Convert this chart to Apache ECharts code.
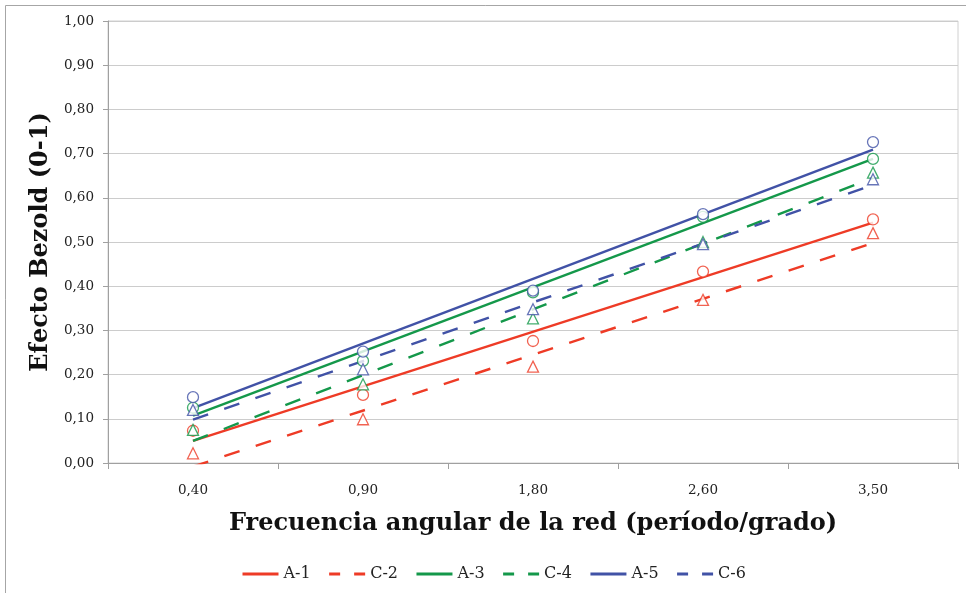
<!DOCTYPE html>
<html>
<head>
<meta charset="utf-8">
<script src="https://cdn.jsdelivr.net/npm/echarts@6/dist/echarts.min.js"></script>
<style>
html,body{margin:0;padding:0;background:#fff;}
#chart{width:966px;height:593px;}
</style>
</head>
<body>
<div id="chart"></div>
<script>
// Categories (x axis)
var categories = ['0,40', '0,90', '1,80', '2,60', '3,50'];
// Measured values (markers)
var A1 = [0.073, 0.154, 0.276, 0.433, 0.551];
var C2 = [0.022, 0.099, 0.218, 0.369, 0.520];
var A3 = [0.125, 0.231, 0.386, 0.557, 0.688];
var C4 = [0.075, 0.178, 0.327, 0.500, 0.657];
var A5 = [0.149, 0.252, 0.390, 0.563, 0.726];
var C6 = [0.120, 0.212, 0.348, 0.495, 0.642];
// Trend lines: value at first and last category
var trendA1 = [0.050, 0.544];
var trendC2 = [-0.008, 0.498];
var trendA3 = [0.107, 0.688];
var trendC4 = [0.050, 0.645];
var trendA5 = [0.124, 0.709];
var trendC6 = [0.098, 0.629];
var seriesNames = ['A-1', 'C-2', 'A-3', 'C-4', 'A-5', 'C-6'];

var RED = '#EE3B26', GREEN = '#14984A', BLUE = '#4152A6';
var FONT = 'DejaVu Serif';
var DASH = [16, 17];
var LEGEND_DASH = [11, 14];

var defs = [
  {name: 'A-1', data: A1, trend: trendA1, color: RED, dashed: false, sym: 'circle'},
  {name: 'C-2', data: C2, trend: trendC2, color: RED, dashed: true, sym: 'triangle'},
  {name: 'A-3', data: A3, trend: trendA3, color: GREEN, dashed: false, sym: 'circle'},
  {name: 'C-4', data: C4, trend: trendC4, color: GREEN, dashed: true, sym: 'triangle'},
  {name: 'A-5', data: A5, trend: trendA5, color: BLUE, dashed: false, sym: 'circle'},
  {name: 'C-6', data: C6, trend: trendC6, color: BLUE, dashed: true, sym: 'triangle'}
];

var series = [];
var legendData = [];
defs.forEach(function (d) {
  series.push({
    name: d.name,
    type: 'line',
    data: [[0, d.trend[0]], [categories.length - 1, d.trend[1]]],
    symbol: 'none',
    clip: true,
    lineStyle: {color: d.color, width: 2.4, type: d.dashed ? DASH : 'solid'},
    itemStyle: {color: d.color},
    z: 3,
    silent: true
  });
  legendData.push({
    name: d.name,
    lineStyle: {color: d.color, width: 3, type: d.dashed ? LEGEND_DASH : 'solid'}
  });
});
defs.forEach(function (d) {
  series.push({
    name: d.name + ' datos',
    type: 'scatter',
    data: d.data,
    symbol: d.sym,
    symbolSize: 11,
    itemStyle: {color: '#fff', borderColor: d.color, borderWidth: 1.3},
    z: 4,
    silent: true
  });
});

var chart = echarts.init(document.getElementById('chart'), null, {renderer: 'canvas'});
chart.setOption({
  animation: false,
  backgroundColor: '#fff',
  textStyle: {fontFamily: FONT},
  graphic: [{
    type: 'polyline',
    shape: {points: [[5.5, 593], [5.5, 5.5], [966, 5.5]]},
    style: {fill: 'none', stroke: '#a6a6a6', lineWidth: 1},
    z: -1
  }],
  grid: {left: 108, right: 8, top: 21, bottom: 130, containLabel: false,
         show: true, borderColor: '#d0d0d0', borderWidth: 1},
  legend: {
    data: legendData,
    bottom: 6,
    left: 236,
    itemWidth: 36,
    itemHeight: 10,
    itemGap: 17,
    itemStyle: {color: 'transparent', borderColor: 'transparent', borderWidth: 0, opacity: 0},
    textStyle: {fontFamily: FONT, fontSize: 16, color: '#222'}
  },
  xAxis: {
    type: 'category',
    data: categories,
    boundaryGap: true,
    name: 'Frecuencia angular de la red (período/grado)',
    nameLocation: 'middle',
    nameGap: 49,
    nameTextStyle: {fontFamily: FONT, fontWeight: 'bold', fontSize: 24, color: '#111'},
    axisLine: {lineStyle: {color: '#a0a0a0', width: 1}},
    axisTick: {show: true, length: 6, lineStyle: {color: '#a0a0a0'}},
    axisLabel: {margin: 20, fontSize: 13.5, color: '#222', fontFamily: FONT},
    splitLine: {show: false}
  },
  yAxis: {
    type: 'value',
    min: 0,
    max: 1,
    interval: 0.1,
    name: 'Efecto Bezold (0-1)',
    nameLocation: 'middle',
    nameGap: 54,
    nameRotate: 90,
    nameTextStyle: {fontFamily: FONT, fontWeight: 'bold', fontSize: 24, color: '#111'},
    axisLine: {show: true, lineStyle: {color: '#a0a0a0', width: 1}},
    axisTick: {show: true, length: 5, lineStyle: {color: '#a0a0a0'}},
    axisLabel: {
      margin: 14, fontSize: 13.5, color: '#222', fontFamily: FONT,
      formatter: function (v) { return v.toFixed(2).replace('.', ','); }
    },
    splitLine: {lineStyle: {color: '#cccccc', width: 1}}
  },
  series: series
});
</script>
</body>
</html>
